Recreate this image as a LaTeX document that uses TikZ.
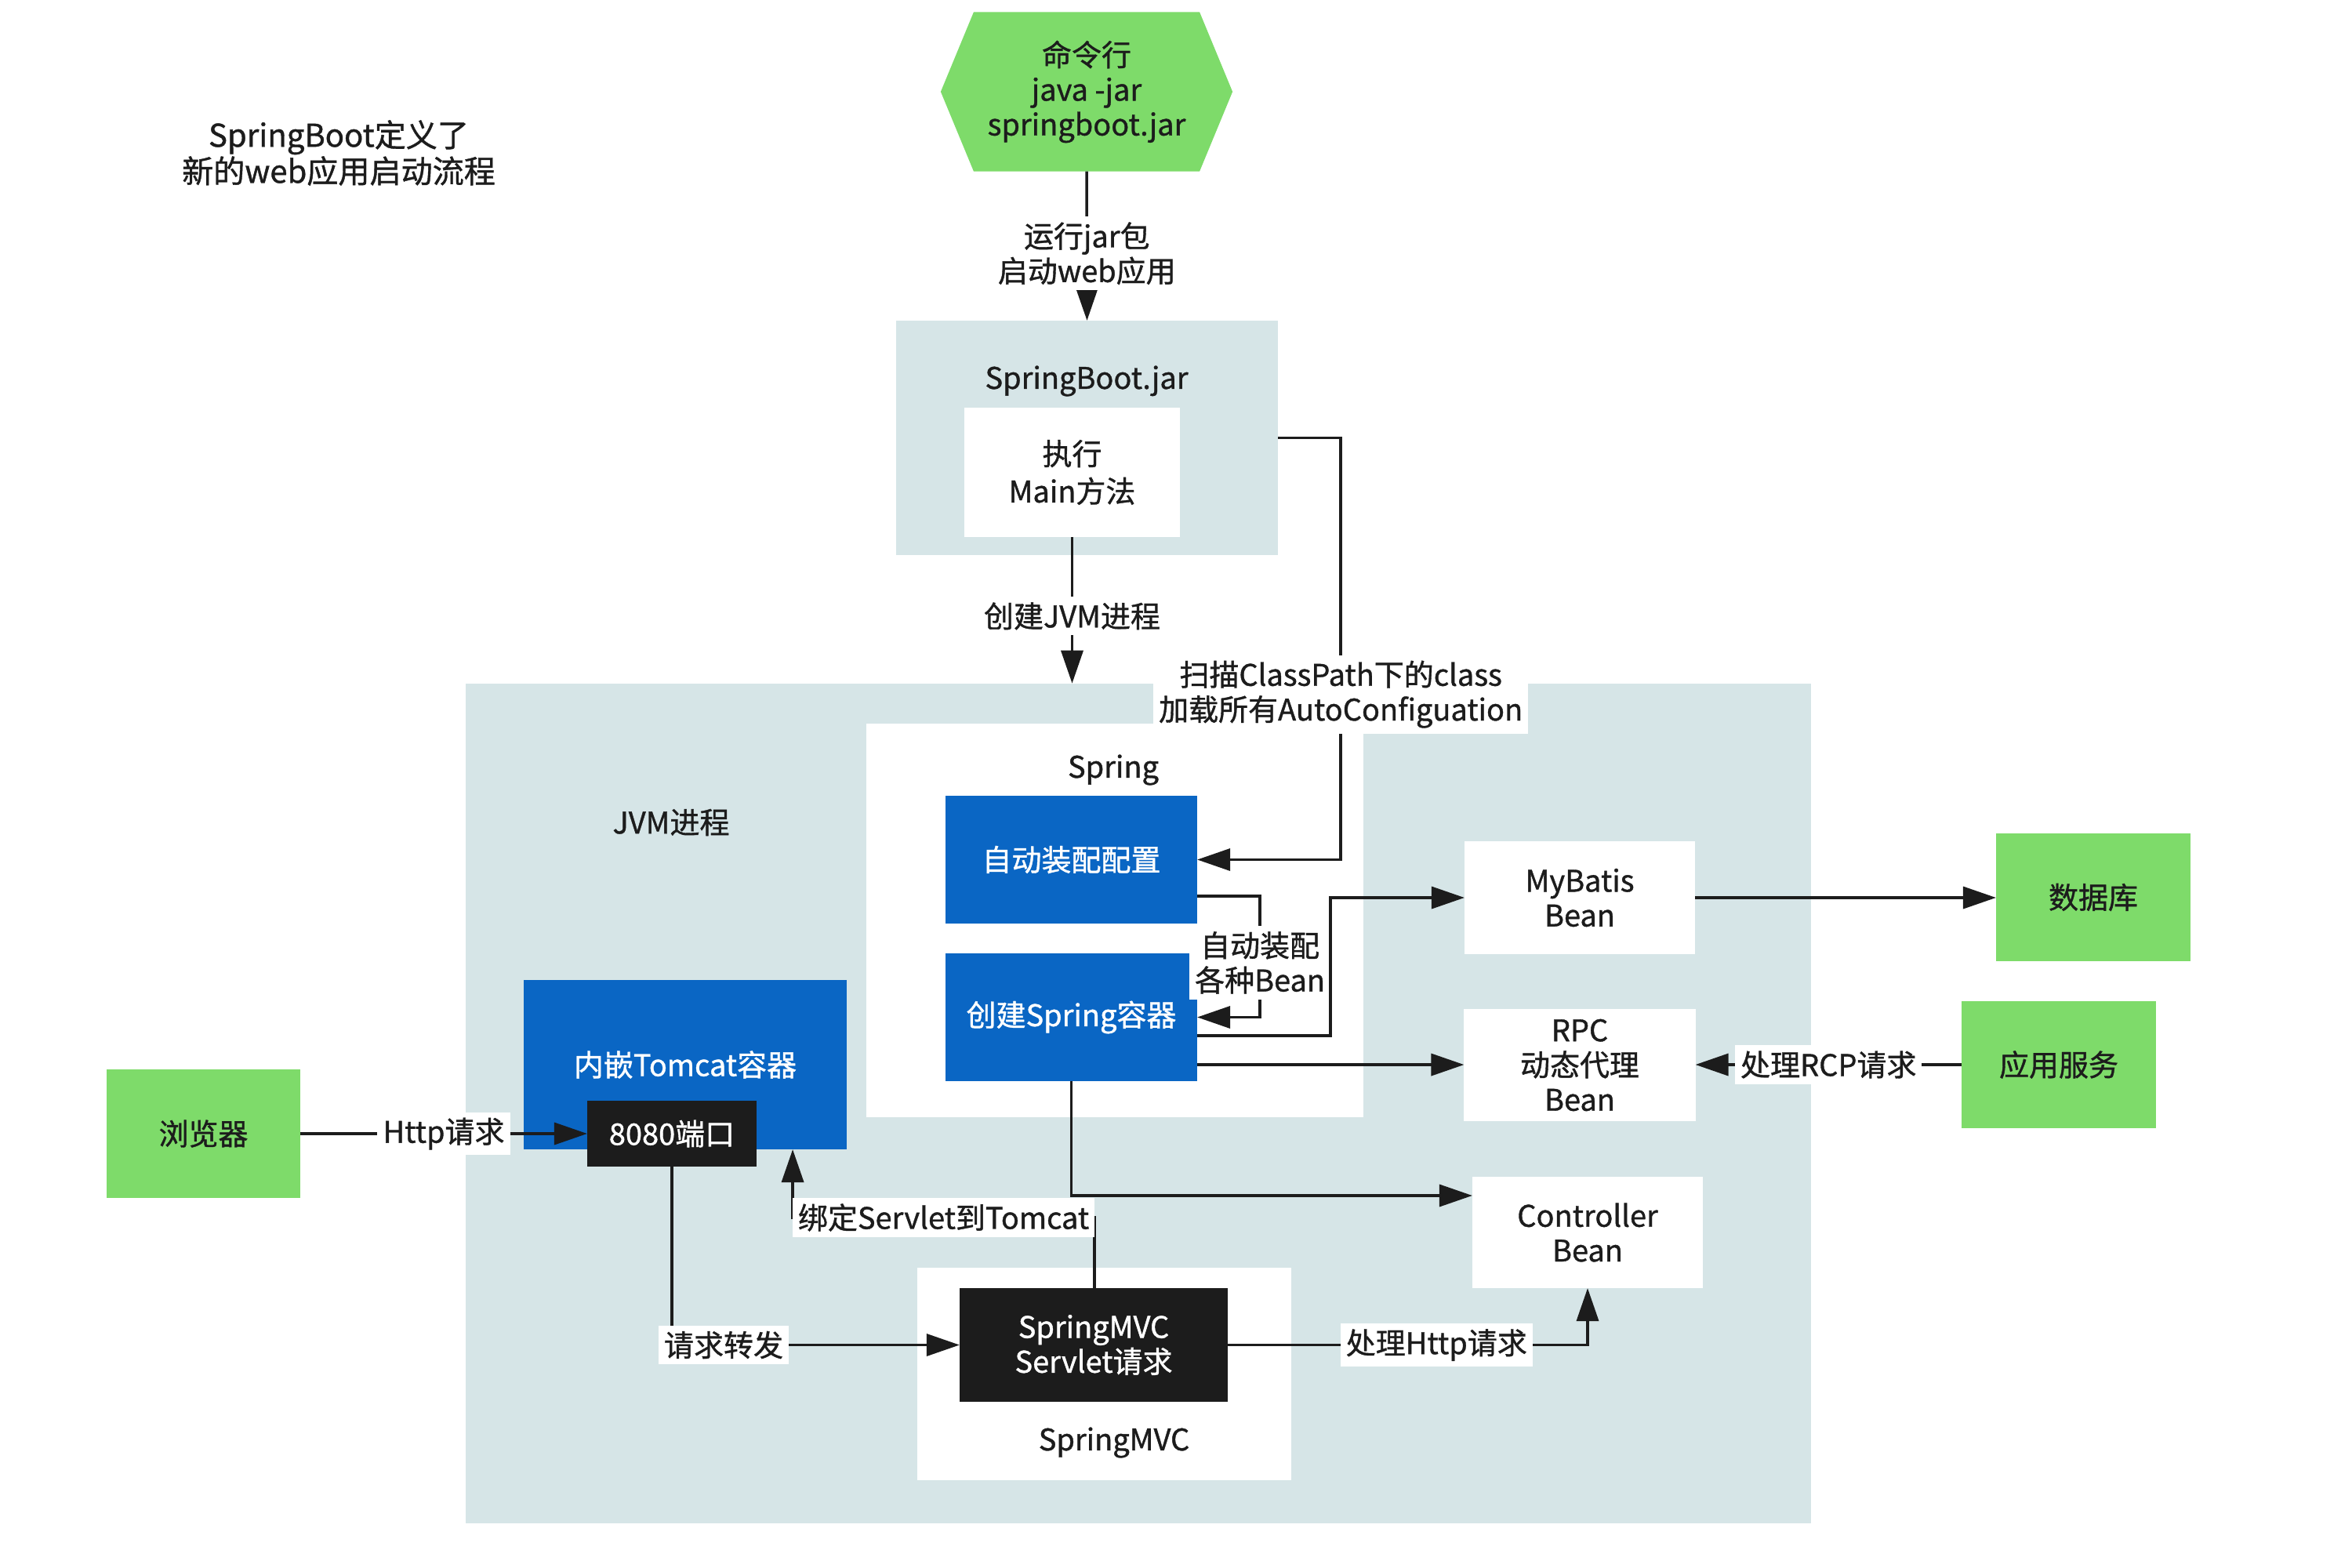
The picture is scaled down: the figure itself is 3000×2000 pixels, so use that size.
\documentclass[tikz,border=0pt]{standalone}
\usepackage{fontspec}
\setmainfont{Noto Sans CJK SC}[FakeBold=1]
\usetikzlibrary{arrows.meta}
\definecolor{lightbg}{RGB}{214,229,231}
\definecolor{grn}{RGB}{126,219,106}
\definecolor{blu}{RGB}{10,102,196}
\definecolor{blk}{RGB}{28,28,28}
\newcommand\fsz{\fontsize{10.8pt}{12.6pt}\selectfont}
\newcommand\fszb{\fontsize{10.8pt}{13.6pt}\selectfont}
\newcommand\fsztitle{\fontsize{11.4pt}{13.1pt}\selectfont}
\begin{document}
\begin{tikzpicture}[x=0.01cm,y=-0.01cm,
  every node/.style={inner sep=0pt, outer sep=0pt, align=center, font=\fsz, text=blk},
  panel/.style={fill=lightbg},
  wbox/.style={fill=white},
  bbox/.style={fill=blu, text=white},
  kbox/.style={fill=blk, text=white},
  gbox/.style={fill=grn},
  lbl/.style={fill=white, inner sep=2pt},
  arr/.style={draw=blk, line width=1pt, -{Triangle[length=0.42cm,width=0.28cm]}},
  hexa/.style={minimum width=3.72cm, minimum height=2.03cm,
    path picture={\fill[grn] ([xshift=0.42cm]path picture bounding box.north west)
      -- ([xshift=-0.42cm]path picture bounding box.north east)
      -- (path picture bounding box.east)
      -- ([xshift=-0.42cm]path picture bounding box.south east)
      -- ([xshift=0.42cm]path picture bounding box.south west)
      -- (path picture bounding box.west) -- cycle;}}
]
\useasboundingbox (0,0) rectangle (3000,2000);

% title
\node[font=\fsztitle] (title) at (432,195) {SpringBoot定义了\\新的web应用启动流程};

% command hexagon
\node[hexa] (cmd) at (1386,117) {命令行\\java -jar\\springboot.jar};

% SpringBoot.jar container
\node[panel, minimum width=4.87cm, minimum height=2.99cm] (jar) at (1386.5,558.5) {};
\node (jarlbl) at (1386,486) {SpringBoot.jar};
\node[wbox, minimum width=2.75cm, minimum height=1.65cm, font=\fszb] (main) at (1367.5,602.5) {执行\\Main方法};

% JVM container
\node[panel, minimum width=17.15cm, minimum height=10.71cm] (jvm) at (1451.5,1407.5) {};
\node (jvmlbl) at (856,1049) {JVM进程};

% Spring container
\node[wbox, minimum width=6.34cm, minimum height=5.02cm] (spring) at (1422,1174) {};
\node (springlbl) at (1420,982) {Spring};
\node[bbox, minimum width=3.21cm, minimum height=1.63cm] (auto) at (1366.5,1096.5) {自动装配配置};
\node[bbox, minimum width=3.21cm, minimum height=1.63cm] (create) at (1366.5,1297.5) {创建Spring容器};

% beans
\node[wbox, minimum width=2.94cm, minimum height=1.44cm] (mybatis) at (2015,1145) {MyBatis\\Bean};
\node[wbox, minimum width=2.95cm, minimum height=1.43cm] (rpc) at (2015,1358.5) {RPC\\动态代理\\Bean};
\node[wbox, minimum width=2.94cm, minimum height=1.42cm] (controller) at (2025,1572) {Controller\\Bean};

% external
\node[gbox, minimum width=2.48cm, minimum height=1.63cm] (db) at (2670,1144.5) {数据库};
\node[gbox, minimum width=2.48cm, minimum height=1.62cm] (appsvc) at (2626,1358) {应用服务};
\node[gbox, minimum width=2.47cm, minimum height=1.64cm] (browser) at (259.5,1446) {浏览器};

% tomcat
\node[bbox, minimum width=4.12cm, minimum height=2.16cm] (tomcat) at (874,1358) {内嵌Tomcat容器};
\node[kbox, minimum width=2.16cm, minimum height=0.84cm] (port) at (857,1446) {8080端口};

% SpringMVC
\node[wbox, minimum width=4.77cm, minimum height=2.71cm] (mvc) at (1408.5,1752.5) {};
\node[kbox, minimum width=3.42cm, minimum height=1.45cm] (servlet) at (1395,1715.5) {SpringMVC\\Servlet请求};
\node (mvclbl) at (1421,1840) {SpringMVC};

% connectors
\draw[arr] (cmd.south) -- node[lbl, pos=0.55] {运行jar包\\启动web应用} (jar.north);
\draw[arr] (main.south) -- node[lbl, pos=0.54] {创建JVM进程} (main.south |- jvm.north);
\draw[arr] (jar.east) -- ++(80,0) |- node[lbl, pos=0.304] {扫描ClassPath下的class\\加载所有AutoConfiguation} (auto.east);
\draw[arr] ([yshift=-0.465cm]auto.east) -- ++(80,0) |- node[lbl, pos=0.275] {自动装配\\各种Bean} (create.east);
\draw[arr] ([yshift=-0.235cm]create.east) -- ++(170,0) |- (mybatis.west);
\draw[arr] ([yshift=-0.605cm]create.east) coordinate (c6) -- (c6 -| rpc.west);
\draw[arr] (create.south) |- ([yshift=0.47cm]controller.west);
\draw[arr] (mybatis.east) -- (mybatis.east -| db.west);
\draw[arr] (appsvc.west) -- node[lbl] {处理RCP请求} (appsvc.west -| rpc.east);
\draw[arr] (browser.east) -- node[lbl] {Http请求} (port.west);
\draw[arr] (port.south) |- node[lbl, pos=0.59] {请求转发} (servlet.west);
\draw[arr] ([xshift=0.01cm]servlet.north) -- ++(0,-90) -| node[lbl, pos=0.25] {绑定Servlet到Tomcat} ([xshift=1.37cm]tomcat.south);
\draw[arr] (servlet.east) -| node[lbl, pos=0.29] {处理Http请求} (controller.south);
\end{tikzpicture}
\end{document}
